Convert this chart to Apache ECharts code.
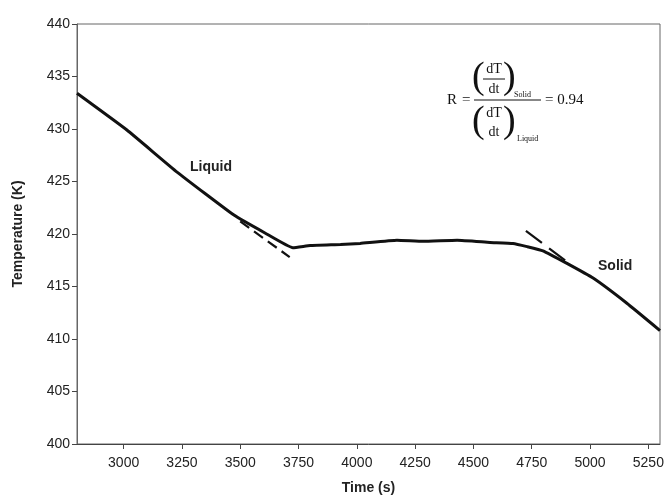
<!DOCTYPE html>
<html>
<head>
<meta charset="utf-8">
<script src="https://cdn.jsdelivr.net/npm/echarts@6/dist/echarts.min.js"></script>
<style>
  html, body { margin: 0; padding: 0; background: #fff; }
  #main { width: 670px; height: 497px; }
</style>
</head>
<body>
<div id="main"></div>
<script>
// 曲线数据 (时间 s, 温度 K)
const times = [2800, 3014, 3229, 3473, 3606, 3726, 3800, 3930, 4014, 4172, 4284, 4430, 4571, 4670, 4730, 4798, 4901, 5013, 5158, 5300];
const temps = [433.4, 429.9, 425.9, 421.8, 420.1, 418.7, 418.9, 419.0, 419.1, 419.4, 419.3, 419.4, 419.2, 419.1, 418.8, 418.4, 417.2, 415.8, 413.4, 410.8];

// 切线 (虚线)
const liquidTangentT = [3500, 3712];
const liquidTangentK = [421.2, 417.8];
const solidTangentT = [4725, 4905];
const solidTangentK = [420.3, 417.3];

const xTicks = [3000, 3250, 3500, 3750, 4000, 4250, 4500, 4750, 5000, 5250];

const pairs = (xs, ys) => xs.map((x, i) => [x, ys[i]]);

const myChart = echarts.init(document.getElementById('main'));

const sans = 'Liberation Sans';
const serifFont = (size) => size + 'px "Liberation Serif"';

myChart.setOption({
  animation: false,
  grid: {
    left: 77, right: 10, top: 24, bottom: 53,
    outerBoundsMode: 'none',
    show: true, borderColor: '#666', borderWidth: 1
  },
  xAxis: {
    type: 'value',
    min: 2800, max: 5300,
    name: 'Time (s)',
    nameLocation: 'middle',
    nameGap: 37,
    nameTextStyle: { fontFamily: sans, fontWeight: 'bold', fontSize: 14, color: '#222' },
    axisLine: { lineStyle: { color: '#444', width: 1 } },
    axisTick: { customValues: xTicks, length: 5, lineStyle: { color: '#444' } },
    axisLabel: { customValues: xTicks, fontFamily: sans, fontSize: 14, color: '#222', margin: 12, formatter: (v) => String(v) },
    splitLine: { show: false }
  },
  yAxis: {
    type: 'value',
    min: 400, max: 440, interval: 5,
    name: 'Temperature (K)',
    nameLocation: 'middle',
    nameGap: 52,
    nameTextStyle: { fontFamily: sans, fontWeight: 'bold', fontSize: 14, color: '#222' },
    axisLine: { show: true, lineStyle: { color: '#666', width: 1 } },
    axisTick: { show: true, length: 5, lineStyle: { color: '#444' } },
    axisLabel: { fontFamily: sans, fontSize: 14, color: '#222', margin: 7 },
    splitLine: { show: false }
  },
  series: [
    {
      type: 'line',
      data: pairs(times, temps),
      smooth: 0.12,
      symbol: 'none',
      lineStyle: { color: '#111', width: 3 }
    },
    {
      type: 'line',
      data: pairs(liquidTangentT, liquidTangentK),
      symbol: 'none',
      lineStyle: { color: '#111', width: 2.2, type: [11, 6] }
    },
    {
      type: 'line',
      data: pairs(solidTangentT, solidTangentK),
      symbol: 'none',
      lineStyle: { color: '#111', width: 2.2, type: [20, 9] }
    }
  ],
  graphic: [
    // 标签
    { type: 'text', left: 190, top: 160, style: { text: 'Liquid', font: 'bold 14px "Liberation Sans"', fill: '#222' } },
    { type: 'text', left: 598, top: 259, style: { text: 'Solid', font: 'bold 14px "Liberation Sans"', fill: '#222' } },
    // 公式
    { type: 'text', x: 447, y: 100, style: { text: 'R', font: serifFont(15), fill: '#111', verticalAlign: 'middle' } },
    { type: 'text', x: 462, y: 100, style: { text: '=', font: serifFont(15), fill: '#111', verticalAlign: 'middle' } },
    { type: 'line', shape: { x1: 474, y1: 100, x2: 541, y2: 100 }, style: { stroke: '#111', lineWidth: 1 } },
    { type: 'text', x: 545, y: 100, style: { text: '= 0.94', font: serifFont(15), fill: '#111', verticalAlign: 'middle' } },
    // 上 (dT/dt)Solid
    { type: 'text', x: 472, y: 78, style: { text: '(', font: serifFont(38), fill: '#111', verticalAlign: 'middle' } },
    { type: 'text', x: 503, y: 78, style: { text: ')', font: serifFont(38), fill: '#111', verticalAlign: 'middle' } },
    { type: 'text', x: 494, y: 69, style: { text: 'dT', font: serifFont(14), fill: '#111', align: 'center', verticalAlign: 'middle' } },
    { type: 'line', shape: { x1: 483, y1: 79, x2: 505, y2: 79 }, style: { stroke: '#111', lineWidth: 1 } },
    { type: 'text', x: 494, y: 89, style: { text: 'dt', font: serifFont(14), fill: '#111', align: 'center', verticalAlign: 'middle' } },
    { type: 'text', x: 514, y: 95, style: { text: 'Solid', font: serifFont(8), fill: '#111', verticalAlign: 'middle' } },
    // 下 (dT/dt)Liquid
    { type: 'text', x: 472, y: 122, style: { text: '(', font: serifFont(38), fill: '#111', verticalAlign: 'middle' } },
    { type: 'text', x: 503, y: 122, style: { text: ')', font: serifFont(38), fill: '#111', verticalAlign: 'middle' } },
    { type: 'text', x: 494, y: 113, style: { text: 'dT', font: serifFont(14), fill: '#111', align: 'center', verticalAlign: 'middle' } },
    { type: 'text', x: 494, y: 132, style: { text: 'dt', font: serifFont(14), fill: '#111', align: 'center', verticalAlign: 'middle' } },
    { type: 'text', x: 517, y: 139, style: { text: 'Liquid', font: serifFont(8), fill: '#111', verticalAlign: 'middle' } }
  ]
});
</script>
</body>
</html>
